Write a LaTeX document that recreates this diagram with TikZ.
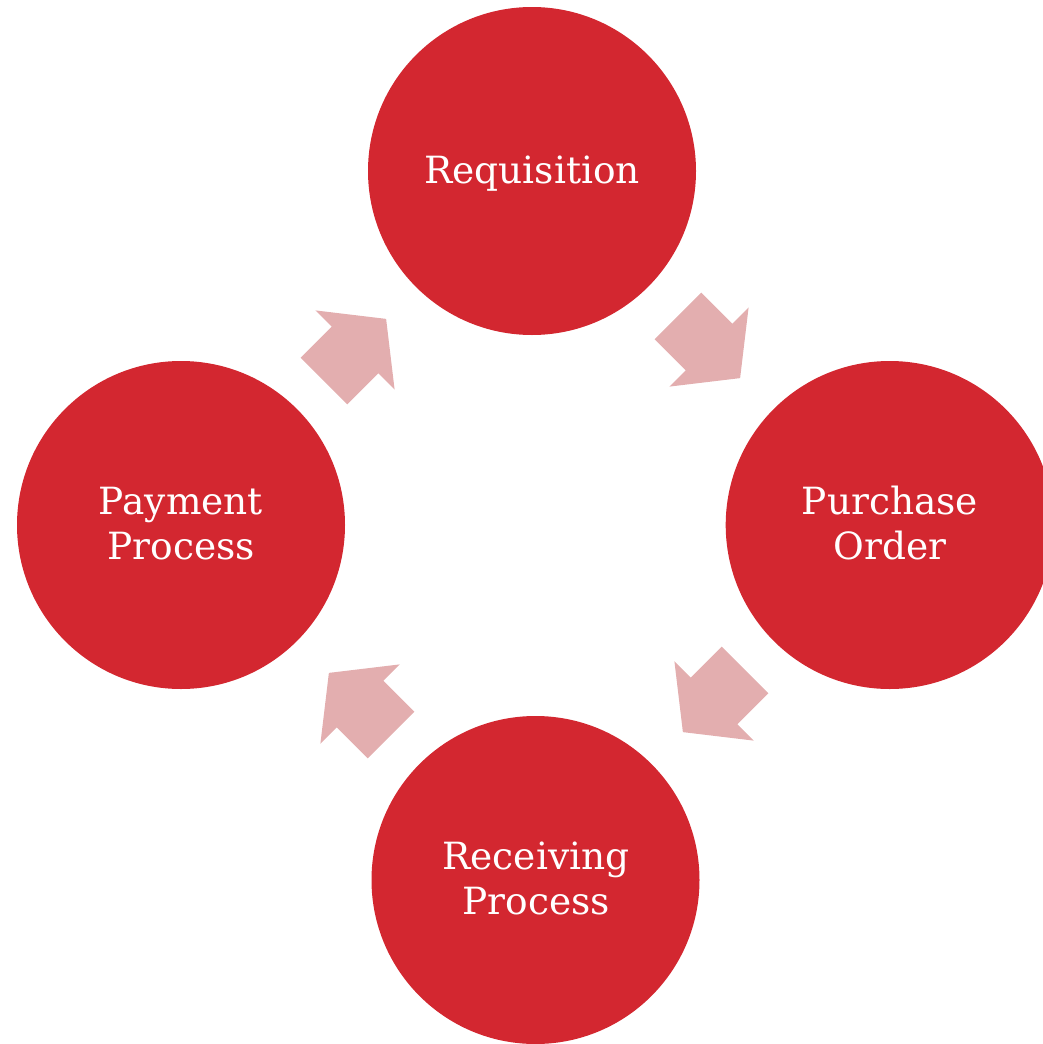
\documentclass[tikz,border=0pt]{standalone}
\usepackage{fontspec}
\setmainfont{DejaVu Serif}
\definecolor{cyclered}{RGB}{211,39,48}
\definecolor{arrowpink}{RGB}{227,174,175}
\begin{document}
\begin{tikzpicture}[x=1pt,y=-1pt,
  stage/.style={circle,fill=cyclered,draw=none,minimum size=328pt,inner sep=0pt},
  stagetext/.style={text=white,anchor=base,inner sep=0pt,font=\fontsize{37.5}{45}\selectfont},
  cyclearrow/.style={fill=arrowpink,draw=none}]
\useasboundingbox (0,0) rectangle (1043,1044);
\clip (0,0) rectangle (1043,1044);
% stages
\node[stage] (req) at (532,171) {};
\node[stage] (po)  at (889.7,525) {};
\node[stage] (rec) at (535.5,880) {};
\node[stage] (pay) at (181,525) {};
% labels
\node[stagetext] (reqA) at (532,183) {Requisition};
\node[stagetext] (poA)  at (890,514.5) {Purchase};
\node[stagetext] (poB)  at (890,559.5) {Order};
\node[stagetext] (recA) at (536,869) {Receiving};
\node[stagetext] (recB) at (536,914) {Process};
\node[stagetext] (payA) at (181,514.5) {Payment};
\node[stagetext] (payB) at (181,559.5) {Process};
% block arrows
\foreach \cx/\cy/\ang in {709/347/-45, 714/701/-135, 360/704/135, 355/350/45}{
  \begin{scope}[shift={(\cx,\cy)},rotate=\ang]
    \fill[cyclearrow] (-44,33) -- (0,33) -- (0,56) -- (44,0) -- (0,-56) -- (0,-33) -- (-44,-33) -- cycle;
  \end{scope}
}
\end{tikzpicture}
\end{document}
